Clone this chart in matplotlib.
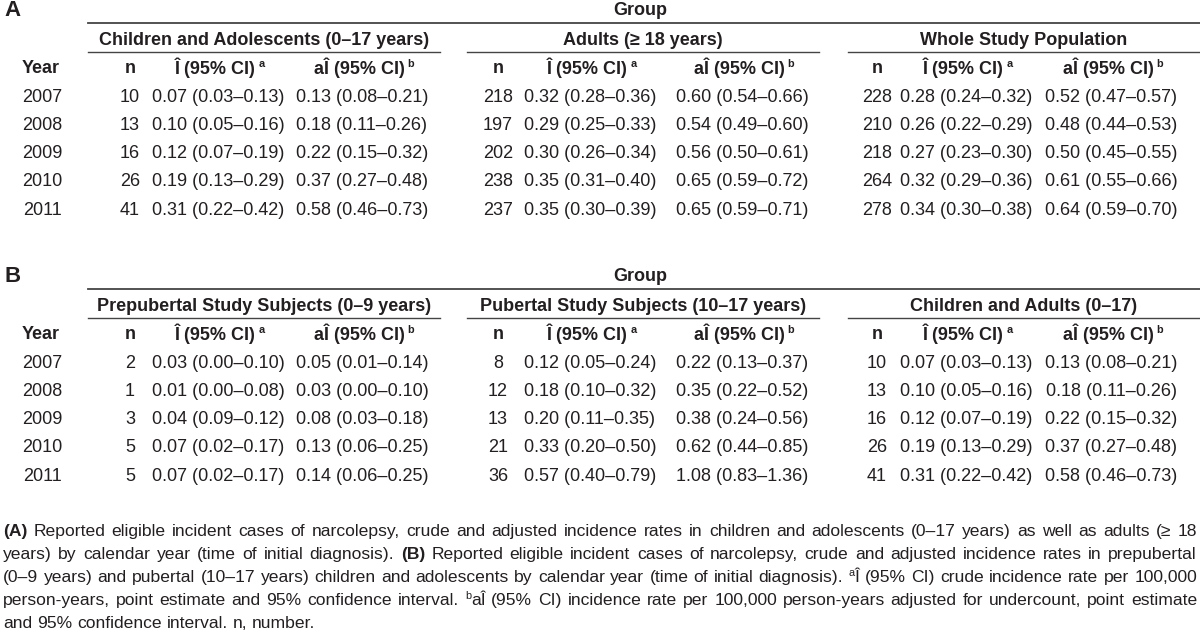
import matplotlib
matplotlib.use("Agg")
import matplotlib.pyplot as plt
from matplotlib import font_manager

names = {f.name for f in font_manager.fontManager.ttflist}
FONT = 'Liberation Sans Narrow' if 'Liberation Sans Narrow' in names else 'Liberation Sans'
plt.rcParams['font.family'] = [FONT, 'DejaVu Sans']
INK = '#231f20'

years = ["2007", "2008", "2009", "2010", "2011"]

# Table A
groups_a = ["Children and Adolescents (0\u201317 years)", "Adults (\u2265 18 years)", "Whole Study Population"]
n_child = ["10", "13", "16", "26", "41"]
i_child = ["0.07 (0.03\u20130.13)", "0.10 (0.05\u20130.16)", "0.12 (0.07\u20130.19)", "0.19 (0.13\u20130.29)", "0.31 (0.22\u20130.42)"]
ai_child = ["0.13 (0.08\u20130.21)", "0.18 (0.11\u20130.26)", "0.22 (0.15\u20130.32)", "0.37 (0.27\u20130.48)", "0.58 (0.46\u20130.73)"]
n_adult = ["218", "197", "202", "238", "237"]
i_adult = ["0.32 (0.28\u20130.36)", "0.29 (0.25\u20130.33)", "0.30 (0.26\u20130.34)", "0.35 (0.31\u20130.40)", "0.35 (0.30\u20130.39)"]
ai_adult = ["0.60 (0.54\u20130.66)", "0.54 (0.49\u20130.60)", "0.56 (0.50\u20130.61)", "0.65 (0.59\u20130.72)", "0.65 (0.59\u20130.71)"]
n_whole = ["228", "210", "218", "264", "278"]
i_whole = ["0.28 (0.24\u20130.32)", "0.26 (0.22\u20130.29)", "0.27 (0.23\u20130.30)", "0.32 (0.29\u20130.36)", "0.34 (0.30\u20130.38)"]
ai_whole = ["0.52 (0.47\u20130.57)", "0.48 (0.44\u20130.53)", "0.50 (0.45\u20130.55)", "0.61 (0.55\u20130.66)", "0.64 (0.59\u20130.70)"]

# Table B
groups_b = ["Prepubertal Study Subjects (0\u20139 years)", "Pubertal Study Subjects (10\u201317 years)", "Children and Adults (0\u201317)"]
n_prep = ["2", "1", "3", "5", "5"]
i_prep = ["0.03 (0.00\u20130.10)", "0.01 (0.00\u20130.08)", "0.04 (0.09\u20130.12)", "0.07 (0.02\u20130.17)", "0.07 (0.02\u20130.17)"]
ai_prep = ["0.05 (0.01\u20130.14)", "0.03 (0.00\u20130.10)", "0.08 (0.03\u20130.18)", "0.13 (0.06\u20130.25)", "0.14 (0.06\u20130.25)"]
n_pub = ["8", "12", "13", "21", "36"]
i_pub = ["0.12 (0.05\u20130.24)", "0.18 (0.10\u20130.32)", "0.20 (0.11\u20130.35)", "0.33 (0.20\u20130.50)", "0.57 (0.40\u20130.79)"]
ai_pub = ["0.22 (0.13\u20130.37)", "0.35 (0.22\u20130.52)", "0.38 (0.24\u20130.56)", "0.62 (0.44\u20130.85)", "1.08 (0.83\u20131.36)"]
n_all = ["10", "13", "16", "26", "41"]
i_all = ["0.07 (0.03\u20130.13)", "0.10 (0.05\u20130.16)", "0.12 (0.07\u20130.19)", "0.19 (0.13\u20130.29)", "0.31 (0.22\u20130.42)"]
ai_all = ["0.13 (0.08\u20130.21)", "0.18 (0.11\u20130.26)", "0.22 (0.15\u20130.32)", "0.37 (0.27\u20130.48)", "0.58 (0.46\u20130.73)"]

# caption lines: pieces of (text, style); style: 'n' normal, 'b' bold, 's' superscript
caption = [
    [("(A)", 'b'), (" Reported eligible incident cases of narcolepsy, crude and adjusted incidence rates in children and adolescents (0\u201317 years) as well as adults (\u2265 18", 'n')],
    [("years) by calendar year (time of initial diagnosis). ", 'n'), ("(B)", 'b'), (" Reported eligible incident cases of narcolepsy, crude and adjusted incidence rates in prepubertal", 'n')],
    [("(0\u20139 years) and pubertal (10\u201317 years) children and adolescents by calendar year (time of initial diagnosis). ", 'n'), ("a", 's'), ("\u00ce (95% CI) crude incidence rate per 100,000", 'n')],
    [("person-years, point estimate and 95% confidence interval. ", 'n'), ("b", 's'), ("a\u00ce (95% CI) incidence rate per 100,000 person-years adjusted for undercount, point estimate", 'n')],
    [("and 95% confidence interval. n, number.", 'n')],
]

FS = 13
CFS = 12.6
fig = plt.figure(figsize=(12, 6.44), dpi=100)
ax = fig.add_axes([0, 0, 1, 1])
ax.set_xlim(0, 1200)
ax.set_ylim(644, 0)
ax.axis('off')
renderer = fig.canvas.get_renderer()

group_x = [(88, 440), (467, 819), (848, 1200)]
col_x = [(130, 218, 362), (498, 590, 742), (877, 966, 1111)]


def sup_text(x, y, s, letter):
    t = ax.text(x, y, s, ha='center', va='center', fontsize=FS, fontweight='bold', color=INK)
    ax.annotate(letter, xy=(1, 0.95), xycoords=t, xytext=(2, 0), textcoords='offset points',
                ha='left', va='top', fontsize=FS * 0.6, fontweight='bold', color=INK)


def draw_table(y0, label, groups, cols):
    ax.text(4, y0 - 1, label, ha='left', va='center', fontsize=16, fontweight='bold', color=INK)
    ax.text(640, y0 - 1, "Group", ha='center', va='center', fontsize=FS, fontweight='bold', color=INK)
    ax.plot([88, 1200], [y0 + 12, y0 + 12], color='#444444', lw=1.3)
    ry = y0 + 29
    hy = y0 + 57
    ax.text(22, hy, "Year", ha='left', va='center', fontsize=FS, fontweight='bold', color=INK)
    for g, (gx0, gx1) in enumerate(group_x):
        cx = col_x[g]
        ax.text((gx0 + gx1) / 2, ry, groups[g], ha='center', va='center', fontsize=FS, fontweight='bold', color=INK)
        ax.plot([gx0, gx1], [y0 + 41, y0 + 41], color='#444444', lw=1.0)
        ax.text(cx[0], hy, "n", ha='center', va='center', fontsize=FS, fontweight='bold', color=INK)
        sup_text(cx[1] - 3, hy, "\u00ce (95% CI)", "a")
        sup_text(cx[2] - 3, hy, "a\u00ce (95% CI)", "b")
    for r, yr in enumerate(years):
        yy = hy + 29 + r * 28.3
        ax.text(42, yy, yr, ha='center', va='center', fontsize=FS, color=INK)
        for g in range(3):
            n, i, ai = cols[g]
            cx = col_x[g]
            ax.text(cx[0], yy, n[r], ha='center', va='center', fontsize=FS, color=INK)
            ax.text(cx[1], yy, i[r], ha='center', va='center', fontsize=FS, color=INK)
            ax.text(cx[2], yy, ai[r], ha='center', va='center', fontsize=FS, color=INK)


draw_table(11, "A", groups_a, [(n_child, i_child, ai_child), (n_adult, i_adult, ai_adult), (n_whole, i_whole, ai_whole)])
draw_table(277, "B", groups_b, [(n_prep, i_prep, ai_prep), (n_pub, i_pub, ai_pub), (n_all, i_all, ai_all)])


# caption, justified like the printed figure legend
def width_of(t):
    return t.get_window_extent(renderer).width


def make_words(segs):
    # list of words, each word a list of (text, style); superscripts glue to next word
    words = [[]]
    for s, style in segs:
        if style == 's':
            words[-1].append((s, style))
            continue
        parts = s.split(' ')
        for k, p in enumerate(parts):
            if k > 0:
                words.append([])
            if p:
                words[-1].append((p, style))
    return [w for w in words if w]


space_t = ax.text(0, 0, "a a", fontsize=CFS)
tight_t = ax.text(0, 0, "aa", fontsize=CFS)
SPACE = width_of(space_t) - width_of(tight_t)
space_t.remove()
tight_t.remove()

LEFT, RIGHT = 3, 1197
for li, segs in enumerate(caption):
    base = 536 + li * 23
    words = make_words(segs)
    placed = []
    total = 0
    for w in words:
        arts = []
        ww = 0
        for s, style in w:
            kw = dict(fontsize=CFS, color=INK, va='baseline', ha='left')
            if style == 'b':
                kw['fontweight'] = 'bold'
            if style == 's':
                kw['fontsize'] = CFS * 0.62
            t = ax.text(0, base - (6 if style == 's' else 0), s, **kw)
            wd = width_of(t)
            arts.append((t, ww))
            ww += wd
        placed.append((arts, ww))
        total += ww
    if li < len(caption) - 1 and len(words) > 1:
        gap = (RIGHT - LEFT - total) / (len(words) - 1)
    else:
        gap = SPACE
    x = LEFT
    for arts, ww in placed:
        for t, off in arts:
            t.set_x(x + off)
        x += ww + gap

fig.savefig("out.png", dpi=100)
